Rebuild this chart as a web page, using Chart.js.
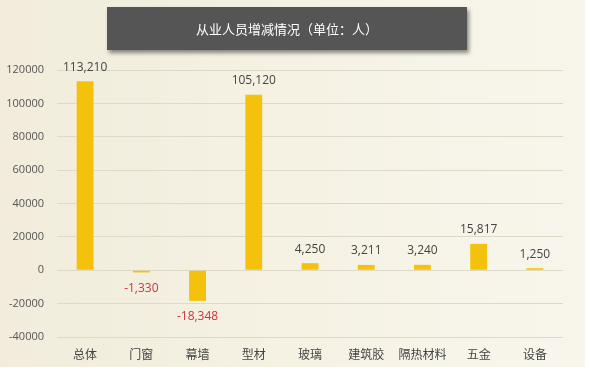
<!DOCTYPE html>
<html><head><meta charset="utf-8">
<script src="https://cdn.jsdelivr.net/npm/chart.js@4"></script>
<style>
html,body{margin:0;padding:0;background:#fff;}
#wrap{position:relative;width:590px;height:373px;overflow:hidden;background:#fff;}
#bg{position:absolute;left:0;top:0;width:585px;height:367px;background:linear-gradient(90deg,#f1ecdb 0%,#f5f2e4 50%,#f8f6ec 100%);}
#title{position:absolute;left:107px;top:7px;width:360px;height:43px;background:#555555;box-shadow:2px 3px 4px rgba(0,0,0,0.45);color:#fff;font:13px "Noto Sans CJK SC",sans-serif;line-height:43px;text-align:center;z-index:2;}
canvas{position:absolute;left:0;top:0;}
</style></head>
<body><div id="wrap"><div id="bg"></div><div id="title">从业人员增减情况（单位：人）</div><canvas id="c" width="590" height="373"></canvas></div>
<script>
const categories = ["总体","门窗","幕墙","型材","玻璃","建筑胶","隔热材料","五金","设备"];
const values = [113210,-1330,-18348,105120,4250,3211,3240,15817,1250];
const yTicks = [-40000,-20000,0,20000,40000,60000,80000,100000,120000];

const labelPlugin = {
  id:'vlabels',
  afterDatasetsDraw(chart){
    const ctx = chart.ctx;
    const meta = chart.getDatasetMeta(0);
    ctx.save();
    ctx.font = '12px "Open Sans", "Noto Sans", sans-serif';
    ctx.textAlign = 'center';
    meta.data.forEach((bar,i)=>{
      const v = values[i];
      const txt = v.toLocaleString('en-US');
      if (v >= 0){
        ctx.fillStyle = '#444444';
        ctx.textBaseline = 'bottom';
        ctx.fillText(txt, bar.x, bar.y - 8);
      } else {
        ctx.fillStyle = '#d4313b';
        ctx.textBaseline = 'top';
        ctx.fillText(txt, bar.x, bar.y + 10);
      }
    });
    ctx.restore();
  }
};

new Chart(document.getElementById('c'), {
  type:'bar',
  data:{labels:categories, datasets:[{data:values, backgroundColor:'#f4c20d', barPercentage:0.3, categoryPercentage:1.0}]},
  options:{
    responsive:false, animation:false,
    layout:{padding:{left:0,right:27,top:70,bottom:0}},
    plugins:{legend:{display:false}, tooltip:{enabled:false}},
    scales:{
      x:{
        grid:{display:false, drawTicks:false},
        border:{display:false},
        ticks:{color:'#444', font:{family:'"Noto Sans CJK SC", sans-serif', size:12}, padding:10, maxRotation:0},
        afterFit(s){ s.height = 36; }
      },
      y:{
        min:-40000, max:120000,
        afterBuildTicks(s){ s.ticks = yTicks.map(v=>({value:v})); },
        grid:{color:'#ddd9c9', lineWidth:1, drawTicks:false},
        border:{display:false},
        ticks:{color:'#555', font:{family:'"Open Sans", "Noto Sans", sans-serif', size:11}, padding:13, callback:(v)=>String(v)},
        afterFit(s){ s.width = 57; }
      }
    }
  },
  plugins:[labelPlugin]
});
</script></body></html>
